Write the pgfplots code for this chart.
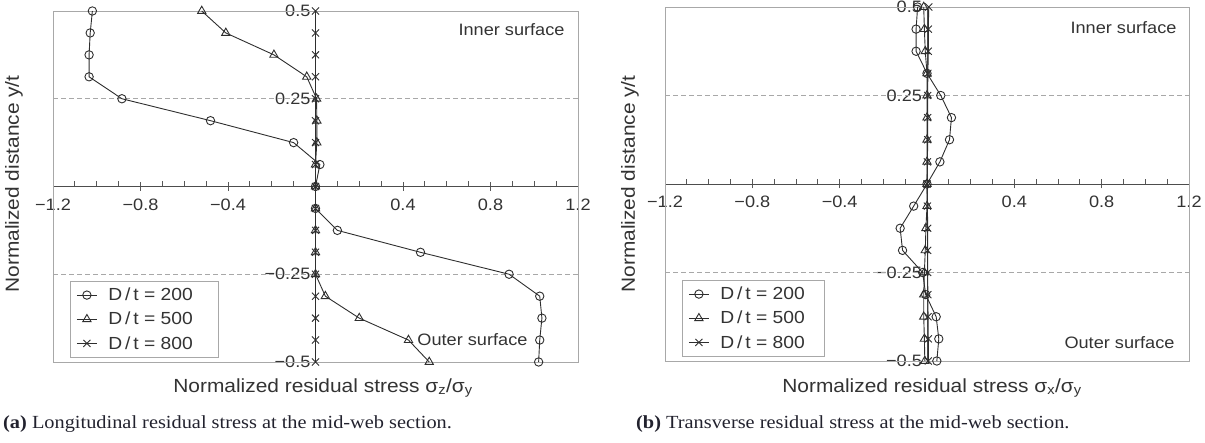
\documentclass[border=0pt]{standalone}
\usepackage{fontspec}
\setmainfont{Liberation Sans}[FakeStretch=1.1]
\newfontfamily\capfont{Liberation Serif}[FakeStretch=1.1]
\usepackage{pgfplots}
\pgfplotsset{compat=1.18}

\definecolor{txt}{HTML}{333333}
\definecolor{framec}{HTML}{A8A8A8}
\definecolor{ln}{HTML}{2E2E2E}
\definecolor{capc}{HTML}{22222E}

\pgfplotsset{
  panel/.style={
    scale only axis, axis lines=middle, clip=false,
    axis line style={-, draw=ln!85, line width=0.9pt},
    xmin=-1.2, xmax=1.2, ymin=-0.5, ymax=0.5,
    xtick={-1.2,-0.8,-0.4,0.4,0.8,1.2},
    xticklabels={−1.2,−0.8,−0.4,0.4,0.8,1.2},
    minor xtick={-1.1,-1.0,-0.9,-0.7,-0.6,-0.5,-0.3,-0.2,-0.1,0.1,0.2,0.3,0.5,0.6,0.7,0.9,1.0,1.1},
    ytick={-0.5,-0.25,0,0.25,0.5},
    yticklabels={−0.5,−0.25,0,0.25,0.5},
    tick align=center, major tick length=9pt, minor tick length=5pt,
    tick style={draw=ln!80, line width=0.8pt},
    minor x tick style={yshift=2.5pt},
    xticklabel style={font=\fontsize{16.5}{16.5}\selectfont, text=txt, yshift=-4pt},
    yticklabel style={font=\fontsize{16.5}{16.5}\selectfont, text=txt, xshift=3pt},
    legend style={at={(rel axis cs:0,0)}, anchor=south west, xshift=17pt, yshift=4pt,
      draw=framec, line width=0.9pt, fill=white, text=txt,
      font=\fontsize{17.5}{17.5}\selectfont, row sep=6pt, column sep=9pt,
      inner xsep=6pt, inner ysep=5pt, cells={anchor=west}},
    legend image code/.code={\draw[mark repeat=2,mark phase=2,#1] plot coordinates {(0pt,0pt) (10pt,0pt) (20pt,0pt)};},
  },
  s200/.style={ln, line width=0.9pt, mark=o, mark size=4.2pt, mark options={fill=white, solid}},
  s500/.style={ln, line width=0.9pt, mark=triangle, mark size=4.8pt, mark options={fill=white, solid}},
  s800/.style={ln, line width=0.9pt, mark=x, mark size=5pt, mark options={solid}},
  refl/.style={framec, dashed, line width=0.9pt, dash pattern=on 5pt off 3pt, forget plot},
}

\begin{document}
\begin{tikzpicture}
\path[use as bounding box] (0,0) rectangle (1205pt,443pt);

% ---------- (a) ----------
\begin{axis}[panel, at={(53pt,81pt)}, anchor=south west, width=525pt, height=351pt]
\draw[framec, line width=0.9pt] (rel axis cs:0,0) rectangle (rel axis cs:1,1);
\addplot[refl] coordinates {(-1.2,0.25) (1.2,0.25)};
\addplot[refl] coordinates {(-1.2,-0.25) (1.2,-0.25)};
\addplot[s200] coordinates {(-1.02,0.5) (-1.03,0.4375) (-1.035,0.375) (-1.035,0.3125) (-0.885,0.25) (-0.48,0.1875) (-0.10,0.125) (0.02,0.0625) (0,0) (0,-0.0625) (0.10,-0.125) (0.48,-0.1875) (0.885,-0.25) (1.025,-0.3125) (1.035,-0.375) (1.025,-0.4375) (1.02,-0.5)};
\addlegendentry{D\,/\,t = 200\hspace*{18pt}}
\addplot[s500] coordinates {(-0.52,0.5) (-0.41,0.4375) (-0.19,0.375) (-0.04,0.3125) (0.005,0.25) (0.006,0.1875) (0.006,0.125) (0,0.0625) (0,0) (0,-0.0625) (0,-0.125) (0,-0.1875) (0,-0.25) (0.045,-0.3125) (0.20,-0.375) (0.425,-0.4375) (0.52,-0.5)};
\addlegendentry{D\,/\,t = 500}
\addplot[s800] coordinates {(0,0.5) (0,0.4375) (0,0.375) (0,0.3125) (0,0.25) (0,0.1875) (0,0.125) (0,0.0625) (0,0) (0,-0.0625) (0,-0.125) (0,-0.1875) (0,-0.25) (0,-0.3125) (0,-0.375) (0,-0.4375) (0,-0.5)};
\addlegendentry{D\,/\,t = 800}
\node[anchor=north east, text=txt, font=\fontsize{16.5}{16.5}\selectfont] at ([xshift=-10pt,yshift=-9pt]rel axis cs:1,1) {Inner surface};
\node[anchor=east, text=txt, font=\fontsize{16.5}{16.5}\selectfont] at (axis cs:0.985,-0.437) {Outer surface};
\end{axis}

% ---------- (b) ----------
\begin{axis}[panel, at={(665pt,82pt)}, anchor=south west, width=524pt, height=354pt]
\draw[framec, line width=0.9pt] (rel axis cs:0,0) rectangle (rel axis cs:1,1);
\addplot[refl] coordinates {(-1.2,0.25) (1.2,0.25)};
\addplot[refl] coordinates {(-1.2,-0.25) (1.2,-0.25)};
\addplot[s200] coordinates {(-0.043,0.5) (-0.05,0.4375) (-0.05,0.375) (0.0,0.3125) (0.063,0.25) (0.112,0.1875) (0.103,0.125) (0.059,0.0625) (0,0) (-0.061,-0.0625) (-0.123,-0.125) (-0.112,-0.1875) (-0.02,-0.25) (-0.006,-0.3125) (0.042,-0.375) (0.054,-0.4375) (0.045,-0.5)};
\addlegendentry{D\,/\,t = 200\hspace*{12pt}}
\addplot[s500] coordinates {(-0.015,0.5) (-0.012,0.4375) (-0.008,0.375) (0,0.3125) (0,0.25) (0,0.1875) (0,0.125) (0,0.0625) (0,0) (0,-0.0625) (-0.005,-0.125) (-0.008,-0.1875) (-0.012,-0.25) (-0.015,-0.3125) (-0.015,-0.375) (-0.012,-0.4375) (-0.01,-0.5)};
\addlegendentry{D\,/\,t = 500}
\addplot[s800] coordinates {(0.008,0.5) (0.006,0.4375) (0.006,0.375) (0.004,0.3125) (0.003,0.25) (0.003,0.1875) (0.003,0.125) (0.002,0.0625) (0,0) (0.002,-0.0625) (0.003,-0.125) (0.003,-0.1875) (0.003,-0.25) (0.004,-0.3125) (0.005,-0.375) (0.006,-0.4375) (0.006,-0.5)};
\addlegendentry{D\,/\,t = 800}
\node[anchor=north east, text=txt, font=\fontsize{16.5}{16.5}\selectfont] at ([xshift=-9pt,yshift=-11pt]rel axis cs:1,1) {Inner surface};
\node[anchor=east, text=txt, font=\fontsize{16.5}{16.5}\selectfont] at ([xshift=-11pt,yshift=18pt]rel axis cs:1,0) {Outer surface};
\end{axis}

% ---------- labels and captions ----------
\node[text=txt, font=\fontsize{19}{19}\selectfont] at (323pt,55pt) {Normalized residual stress σ\textsubscript{z}/σ\textsubscript{y}};
\node[text=txt, font=\fontsize{19}{19}\selectfont] at (932pt,55pt) {Normalized residual stress σ\textsubscript{x}/σ\textsubscript{y}};
\node[text=txt, font=\fontsize{19}{19}\selectfont, rotate=90] at (14pt,259pt) {Normalized distance y/t};
\node[text=txt, font=\fontsize{19}{19}\selectfont, rotate=90] at (630pt,259pt) {Normalized distance y/t};
\node[anchor=base west, inner sep=0pt, text=capc, font=\capfont\fontsize{18.5}{18.5}\selectfont] at (3pt,14pt) {\textbf{(a)} Longitudinal residual stress at the mid-web section.};
\node[anchor=base west, inner sep=0pt, text=capc, font=\capfont\fontsize{18.5}{18.5}\selectfont] at (636pt,14pt) {\textbf{(b)} Transverse residual stress at the mid-web section.};
\end{tikzpicture}
\end{document}
